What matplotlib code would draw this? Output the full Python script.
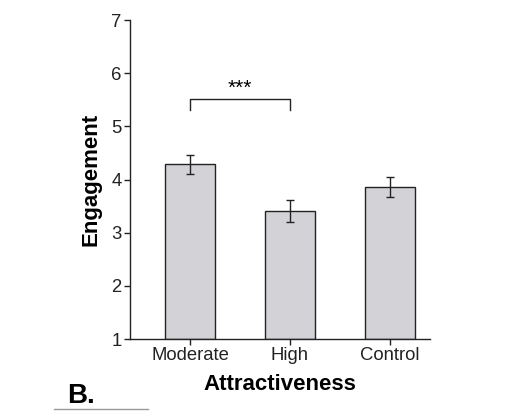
import matplotlib
matplotlib.use("Agg")
import matplotlib.pyplot as plt

plt.rcParams['font.family'] = ['Liberation Sans', 'DejaVu Sans']

# data
categories = ["Moderate", "High", "Control"]
means = [4.29, 3.41, 3.86]
errors = [0.18, 0.20, 0.18]
yticks = [1, 2, 3, 4, 5, 6, 7]

barColor = "#D3D2D7"
lineColor = "#222222"

fig = plt.figure(figsize=(5.19, 4.15), dpi=100)
ax = fig.add_axes([0.2505, 0.1831, 0.578, 0.7687])

xpos = list(range(len(categories)))
ax.bar(xpos, [m - 1 for m in means], bottom=1, width=0.5, color=barColor,
       edgecolor=lineColor, linewidth=1.0, zorder=2)
ax.errorbar(xpos, means, yerr=errors, fmt="none", ecolor=lineColor,
            elinewidth=1.0, capsize=3, capthick=1.0, zorder=3)

# significance bracket
ax.plot([0, 0, 1, 1], [5.3, 5.51, 5.51, 5.3], color=lineColor, linewidth=1.0)
ax.text(0.5, 5.53, "***", ha="center", va="bottom", fontsize=15)

ax.set_xlim(-0.6, 2.4)
ax.set_ylim(1, 7)
ax.set_yticks(yticks)
ax.set_xticks(xpos)
ax.set_xticklabels(categories)
ax.tick_params(axis="both", direction="out", length=4, width=1.0,
               labelsize=13.3, colors=lineColor, pad=2)
for s in ["top", "right"]:
    ax.spines[s].set_visible(False)
for s in ["left", "bottom"]:
    ax.spines[s].set_linewidth(1.0)
    ax.spines[s].set_color(lineColor)

ax.set_ylabel("Engagement", fontsize=16, fontweight="bold", labelpad=7)
ax.set_xlabel("Attractiveness", fontsize=16, fontweight="bold", labelpad=7)

# panel label
fig.text(0.13, 0.015, "B.", fontsize=20, fontweight="bold", ha="left", va="bottom")
fig.add_artist(plt.Line2D([0.105, 0.285], [0.014, 0.014], color="#999999", linewidth=1.0))

fig.savefig("out.png", dpi=100)
